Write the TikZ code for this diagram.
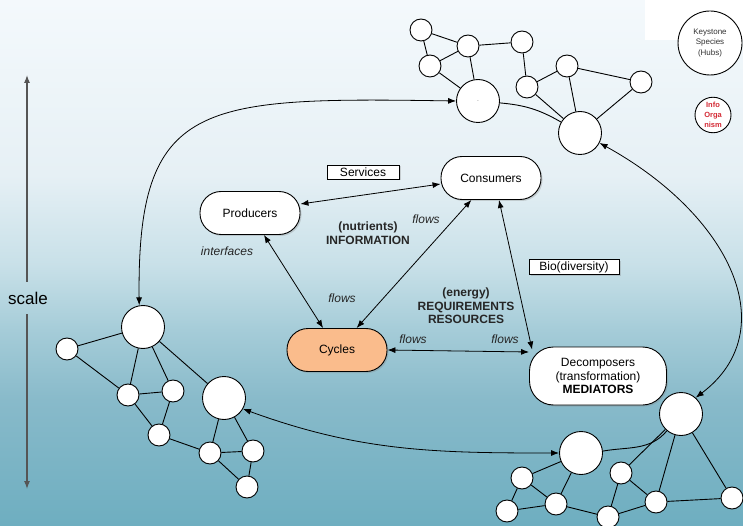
\documentclass[tikz,border=0pt]{standalone}
\usepackage{fontspec}
\setmainfont{Liberation Sans}
\usetikzlibrary{arrows.meta,shapes.geometric,shadows}
\definecolor{bgA}{HTML}{F4F9FC}
\definecolor{bgB}{HTML}{E6F0F5}
\definecolor{bgC}{HTML}{C8E0E8}
\definecolor{bgD}{HTML}{A5CCD8}
\definecolor{bgE}{HTML}{88BACA}
\definecolor{bgF}{HTML}{6EAEC0}
\definecolor{cycfill}{HTML}{FABC8C}
\definecolor{infored}{HTML}{D42A35}
\definecolor{scalegray}{HTML}{555555}
\begin{document}
\begin{tikzpicture}[x=1pt,y=-1pt,
  hub/.style={circle,draw,fill=white,line width=0.9pt,inner sep=0pt,minimum size=22pt},
  bighub/.style={hub,minimum size=43pt},
  edge/.style={line width=0.9pt},
  shad/.style={drop shadow={opacity=0.3,shadow xshift=1.5pt,shadow yshift=-1.5pt}},
  box/.style={draw,fill=white,line width=0.9pt,rounded corners=21pt,minimum width=100pt,minimum height=43pt,align=center,font=\fontsize{12}{13.5}\selectfont,shad},
  tag/.style={draw,fill=white,line width=0.8pt,inner sep=0pt,font=\fontsize{12}{13.5}\selectfont,shad},
  biarr/.style={<->,line width=0.8pt},
  flowlbl/.style={font=\fontsize{12}{13.5}\selectfont\itshape,text=black!85},
  boldlbl/.style={font=\fontsize{12}{13.5}\selectfont\bfseries,align=center,text=black!85},
  >={Latex[length=8pt,width=6pt]}
]
\useasboundingbox (0,0) rectangle (743,526);
% background
\shade[top color=bgA,bottom color=bgB] (0,0) rectangle (743,175.5);
\shade[top color=bgB,bottom color=bgC] (0,175) rectangle (743,265.5);
\shade[top color=bgC,bottom color=bgD] (0,265) rectangle (743,330.5);
\shade[top color=bgD,bottom color=bgE] (0,330) rectangle (743,400.5);
\shade[top color=bgE,bottom color=bgF] (0,400) rectangle (743,526);
\fill[white] (645,0) rectangle (743,40);

% legend
\node[circle,draw,fill=white,line width=0.9pt,minimum size=64pt,inner sep=0pt,align=center,
      font=\fontsize{8}{10.5}\selectfont,text=black!80] (key) at (710,43) {Keystone\\Species\\(Hubs)};
\node[ellipse,draw,fill=white,line width=0.9pt,minimum width=36pt,minimum height=30pt,inner sep=0pt,align=center,
      font=\fontsize{7.5}{9.8}\selectfont\bfseries,text=infored] (info) at (713,115) {Info\\Orga\\nism};

% top network
\node[hub] (t1) at (421,30) {};
\node[hub] (t2) at (468,46) {};
\node[hub] (t3) at (430,66) {};
\node[hub] (t4) at (522,42) {};
\node[hub] (t5) at (567,66) {};
\node[hub] (t6) at (527,87) {};
\node[hub] (t7) at (641,82) {};
\node[bighub,font=\tiny] (tA) at (478,101) {.};
\node[bighub] (tB) at (580,133) {};
\draw[edge] (t1) -- (t2);
\draw[edge] (t1) -- (t3);
\draw[edge] (t3) -- (t2);
\draw[edge] (t2) -- (t4);
\draw[edge] (t3) -- (tA);
\draw[edge] (t2) -- (tA);
\draw[edge] (t4) -- (t6);
\draw[edge] (t6) -- (t5);
\draw[edge] (t5) -- (t7);
\draw[edge] (t5) -- (tB);
\draw[edge] (t6) -- (tB);
\draw[edge] (t7) -- (tB);
\draw[edge] (tA.-5) to[out=-5,in=150] (tB.150);

% left network
\node[bighub] (lA) at (143,327) {};
\node[hub] (l1) at (67,349) {};
\node[hub] (l2) at (128,395) {};
\node[hub] (l3) at (173,391) {};
\node[hub] (l4) at (159,435) {};
\node[bighub] (lB) at (224,398) {};
\node[hub] (l5) at (210,453) {};
\node[hub] (l6) at (253,451) {};
\node[hub] (l7) at (247,487) {};
\draw[edge] (lA) -- (l1);
\draw[edge] (l1) -- (l2);
\draw[edge] (lA) -- (l2);
\draw[edge] (lA) -- (l3);
\draw[edge] (l2) -- (l3);
\draw[edge] (l2) -- (l4);
\draw[edge] (l3) -- (l4);
\draw[edge] (lA) -- (lB);
\draw[edge] (l4) -- (l5);
\draw[edge] (lB) -- (l5);
\draw[edge] (lB) -- (l6);
\draw[edge] (l5) -- (l6);
\draw[edge] (l5) -- (l7);
\draw[edge] (l6) -- (l7);

% bottom network
\node[bighub] (bB) at (681,414) {};
\node[bighub] (bA) at (581,453) {};
\node[hub] (b1) at (522,478) {};
\node[hub] (b2) at (507,511) {};
\node[hub] (b3) at (556,504) {};
\node[hub] (b4) at (621,473) {};
\node[hub] (b5) at (608,517) {};
\node[hub] (b6) at (656,502) {};
\node[hub] (b7) at (732,498) {};
\draw[edge] (bB) -- (b4);
\draw[edge] (bB) -- (b6);
\draw[edge] (bB) -- (b7);
\draw[edge] (bA) -- (b1);
\draw[edge] (bA) -- (b3);
\draw[edge] (b1) -- (b2);
\draw[edge] (b1) -- (b3);
\draw[edge] (b2) -- (b3);
\draw[edge] (b3) -- (b5);
\draw[edge] (b4) -- (b5);
\draw[edge] (b4) -- (b6);
\draw[edge] (b5) -- (b6);
\draw[edge] (b6) -- (b7);
\draw[edge] (bA.5) to[out=10,in=230] (bB.230);

% long curved connectors
\draw[biarr] (lA.100) .. controls (137,100) and (200,97) .. (tA.west);
\draw[biarr] (tB.-27) .. controls (730,215) and (785,330) .. (bB.48);
\draw[biarr] (lB.-30) to[out=-20,in=180] (bA.west);

% scale
\node[font=\fontsize{17}{18}\selectfont,minimum height=32pt,inner sep=0pt] (scale) at (28,298) {scale};
\coordinate (stop) at (27,75);
\coordinate (sbot) at (27,489);
\draw[->,line width=1.1pt,scalegray] (scale.north -| stop) -- (stop);
\draw[->,line width=1.1pt,scalegray] (scale.south -| stop) -- (sbot);

% main boxes
\node[box] (prod) at (250,213) {Producers};
\node[box] (cons) at (491,178) {Consumers};
\node[box,fill=cycfill] (cyc) at (337,350) {Cycles};
\node[box,minimum width=137pt,minimum height=58pt,rounded corners=24pt] (deco) at (598,376)
  {Decomposers\\(transformation)\\\textbf{MEDIATORS}};
\node[tag,minimum width=72pt,minimum height=14pt] (serv) at (363,172) {Services};
\node[tag,minimum width=90pt,minimum height=15pt] (bio) at (574,267) {Bio(diversity)};

\draw[biarr] ([yshift=9pt]prod.east) -- ([yshift=-6pt]cons.west);
\draw[biarr] (prod) -- (cyc);
\draw[biarr] (cyc) -- (cons);
\draw[biarr] ([xshift=8pt]cons.south) -- ([xshift=3pt,yshift=-3pt]deco.north west);
\draw[biarr] (cyc.east) -- ([yshift=24pt]deco.west);

% labels
\node[boldlbl] (nutr) at (368,233) {(nutrients)\\INFORMATION};
\node[boldlbl] (ener) at (466,306) {(energy)\\REQUIREMENTS\\RESOURCES};
\node[flowlbl] (f1) at (426,219) {flows};
\node[flowlbl] (f2) at (342,298) {flows};
\node[flowlbl] (f3) at (413,339) {flows};
\node[flowlbl] (f4) at (505,339) {flows};
\node[flowlbl] (intf) at (227,251) {interfaces};
\end{tikzpicture}
\end{document}
